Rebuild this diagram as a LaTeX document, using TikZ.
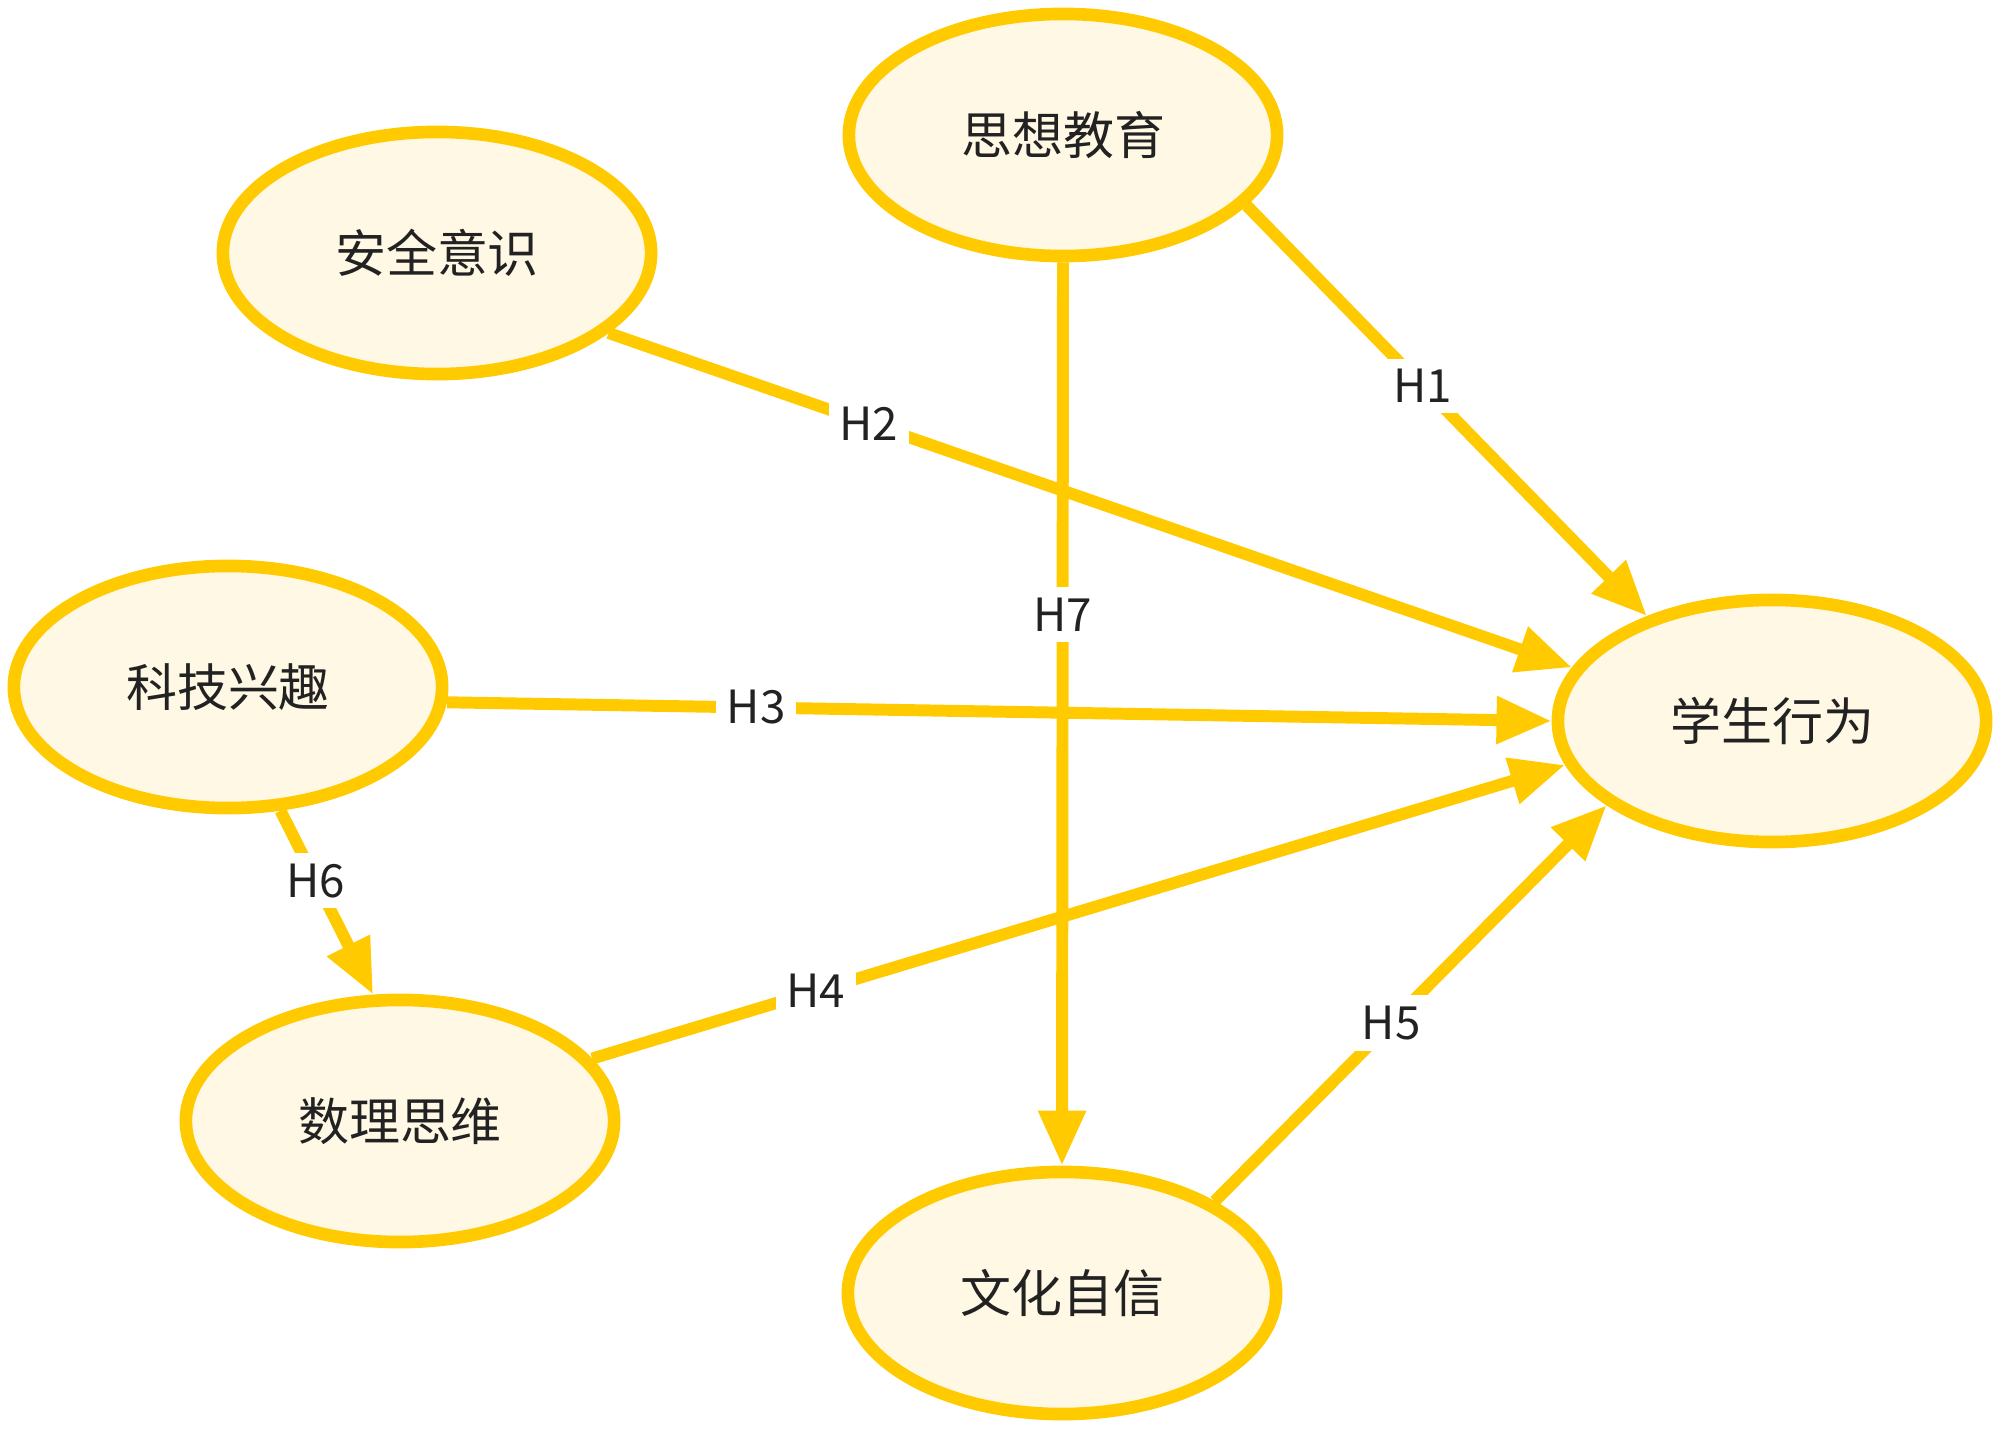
\documentclass[tikz,border=0pt]{standalone}
\usepackage{fontspec}
\setmainfont{Noto Sans CJK SC}
\usetikzlibrary{arrows.meta, shapes.geometric}
\definecolor{cyellow}{HTML}{FFCA00}
\definecolor{ccream}{HTML}{FFF8E4}
\definecolor{ctext}{HTML}{222222}
\tikzset{
  every picture/.style={line width=3.6pt},
  factor/.style={ellipse, draw=cyellow, fill=ccream, text=ctext, minimum width=4.28cm, minimum height=2.42cm, font=\fontsize{14.5}{17}\selectfont},
  link/.style={-{Triangle[length=0.55cm, width=0.45cm]}, draw=cyellow, line width=3.4pt},
  hyp/.style={fill=white, text=ctext, inner sep=3pt, font=\fontsize{13}{15}\selectfont},
}

\begin{document}
\begin{tikzpicture}[x=0.01cm, y=-0.01cm]
  \useasboundingbox (0,0) rectangle (2000,1431);
  % factors
  \node[factor] (edu)     at (1063,135)  {思想教育};
  \node[factor] (safety)  at (437,253)   {安全意识};
  \node[factor] (tech)    at (228,687)   {科技兴趣};
  \node[factor] (math)    at (400,1121)  {数理思维};
  \node[factor] (culture) at (1062,1293) {文化自信};
  \node[factor] (behav)   at (1772,721)  {学生行为};
  % hypotheses
  \draw[link] (edu.-21.5) -- (behav.140) node[hyp, pos=0.44] {H1};
  \draw[link] (safety.-25) -- (behav.165) node[hyp, pos=0.27] {H2};
  \draw[link] (tech.-4.7) -- (behav.west) node[hyp, pos=0.28] {H3};
  \draw[link] (math.18.7) -- (behav.-168) node[hyp, pos=0.23] {H4};
  \draw[link] (culture.31) -- (behav.-153) node[hyp, pos=0.45] {H5};
  \draw[link] (tech.-67) -- (math.102.4) node[hyp, pos=0.38] {H6};
  \draw[link] (edu.south) -- (culture.north) node[hyp, pos=0.39] {H7};
\end{tikzpicture}
\end{document}
